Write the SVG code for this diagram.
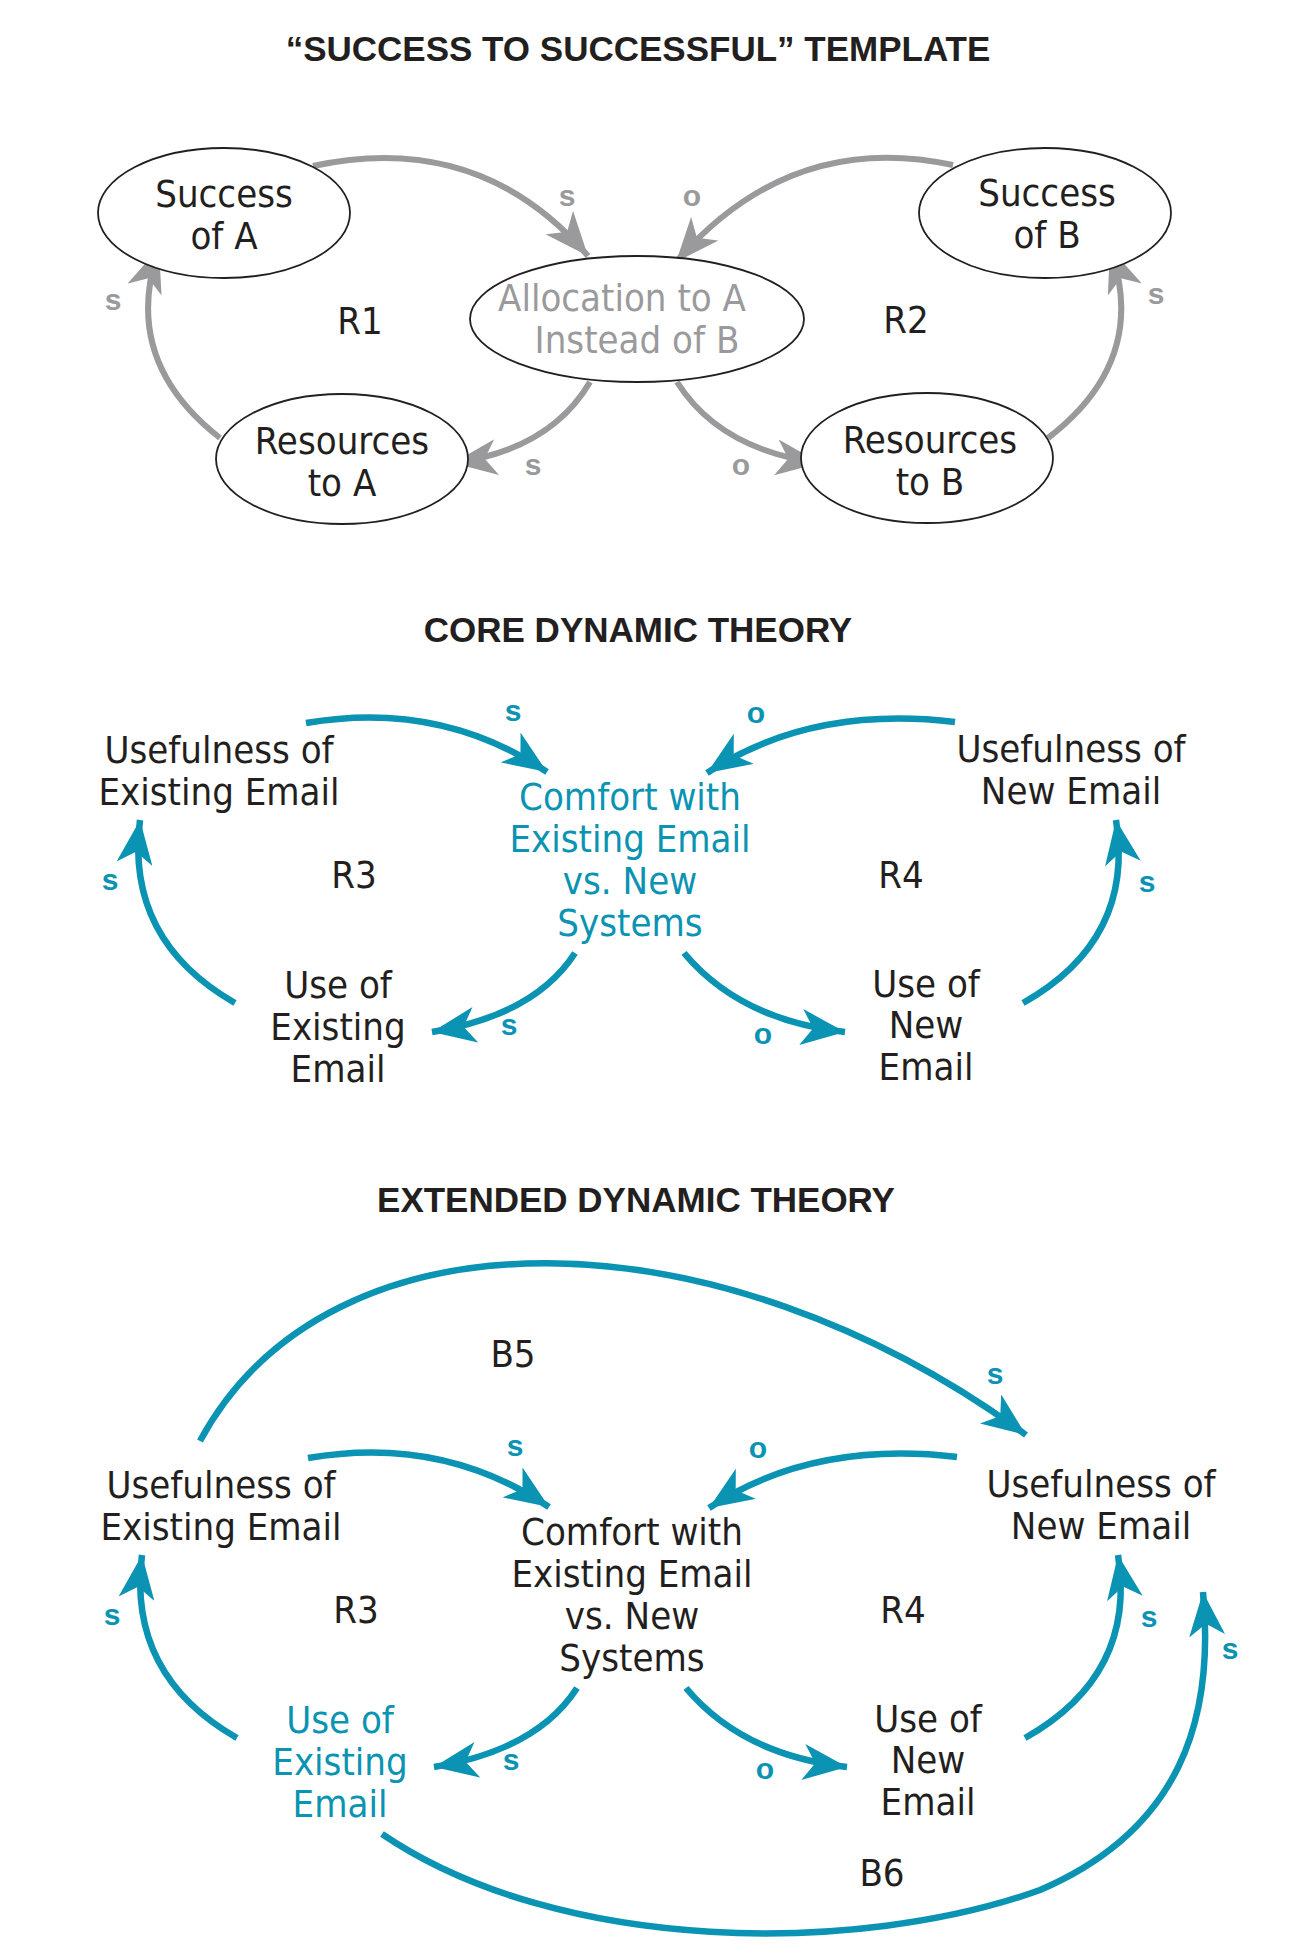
<svg xmlns="http://www.w3.org/2000/svg" width="1316" height="1956" viewBox="0 0 1316 1956">
<style>
.t{font-family:"Liberation Sans Narrow","DejaVu Sans Condensed","Liberation Sans",sans-serif;font-size:38px;text-anchor:middle;fill:#231f20}
.h{font-family:"Liberation Sans","DejaVu Sans",sans-serif;font-weight:bold;font-size:35px;text-anchor:middle;fill:#231f20}
.g{fill:#9a9a9c}.c{fill:#0a93b2}
.sg{font-family:"Liberation Sans","DejaVu Sans",sans-serif;font-weight:bold;font-size:30px;text-anchor:middle;fill:#9a9a9c}
.sc{font-family:"Liberation Sans","DejaVu Sans",sans-serif;font-weight:bold;font-size:30px;text-anchor:middle;fill:#0a93b2}
.ag{fill:none;stroke:#9a9a9c;stroke-width:6;marker-end:url(#mg)}
.ac{fill:none;stroke:#0a93b2;stroke-width:6.5;marker-end:url(#mc)}
ellipse{fill:#fff;stroke:#231f20;stroke-width:1.8}
</style>
<defs>
<marker id="mg" markerUnits="userSpaceOnUse" markerWidth="46" markerHeight="36" refX="44" refY="18" orient="auto"><path d="M0,0 L44,18 L0,36 L12,18 z" fill="#9a9a9c"/></marker>
<marker id="mc" markerUnits="userSpaceOnUse" markerWidth="46" markerHeight="36" refX="44" refY="18" orient="auto"><path d="M0,0 L44,18 L0,36 L12,18 z" fill="#0a93b2"/></marker>
</defs>
<rect width="1316" height="1956" fill="#fff"/>
<text class="h" x="638" y="61">“SUCCESS TO SUCCESSFUL” TEMPLATE</text>
<text class="h" x="638" y="642">CORE DYNAMIC THEORY</text>
<text class="h" x="636" y="1212">EXTENDED DYNAMIC THEORY</text>

<g id="connectors">
<path class="ag" d="M313,166 Q480,130 588,256"/>
<path class="ag" d="M953,165 Q790,130 676,262"/>
<path class="ag" d="M590,382 Q550,450 453,463"/>
<path class="ag" d="M677,382 Q720,450 820,463"/>
<path class="ag" d="M220,438 Q120,360 159,248"/>
<path class="ag" d="M1048,438 Q1150,360 1110,248"/>
<path class="ac" d="M306,723 Q440,700 547,772"/>
<path class="ac" d="M955,722 Q810,705 707,773"/>
<path class="ac" d="M575,953 Q535,1015 432,1032"/>
<path class="ac" d="M684,953 Q740,1020 845,1032"/>
<path class="ac" d="M235,1003 Q125,940 140,820"/>
<path class="ac" d="M1023,1003 Q1135,940 1116,820"/>
<g transform="translate(2,735)">
<path class="ac" d="M306,723 Q440,700 547,772"/>
<path class="ac" d="M955,722 Q810,705 707,773"/>
<path class="ac" d="M575,953 Q535,1015 432,1032"/>
<path class="ac" d="M684,953 Q740,1020 845,1032"/>
<path class="ac" d="M235,1003 Q125,940 140,820"/>
<path class="ac" d="M1023,1003 Q1135,940 1116,820"/>
</g>
<path class="ac" d="M200,1441 C330,1200 720,1210 1026,1435"/>
<path class="ac" d="M382,1834 C560,1955 860,1955 1040,1890 C1180,1830 1215,1720 1203,1592"/>
</g>

<g id="polarity">
<text class="sg" x="567" y="206">s</text><text class="sg" x="692" y="206">o</text>
<text class="sg" x="113" y="310">s</text><text class="sg" x="1156" y="304">s</text>
<text class="sg" x="533" y="475">s</text><text class="sg" x="741" y="475">o</text>
<text class="sc" x="513" y="721">s</text><text class="sc" x="756" y="723">o</text>
<text class="sc" x="110" y="890">s</text><text class="sc" x="1147" y="892">s</text>
<text class="sc" x="509" y="1035">s</text><text class="sc" x="763" y="1044">o</text>
<text class="sc" x="515" y="1456">s</text><text class="sc" x="758" y="1458">o</text>
<text class="sc" x="112" y="1625">s</text><text class="sc" x="1149" y="1627">s</text>
<text class="sc" x="511" y="1770">s</text><text class="sc" x="765" y="1779">o</text>
<text class="sc" x="995" y="1384">s</text><text class="sc" x="1230" y="1659">s</text>
</g>

<g id="succA"><ellipse cx="224" cy="213" rx="126" ry="65"/><text class="t" x="224" y="207">Success</text><text class="t" x="224" y="249">of A</text></g>
<g id="alloc"><ellipse cx="637" cy="319" rx="167" ry="63"/><text class="t g" x="622" y="311">Allocation to A</text><text class="t g" x="637" y="353">Instead of B</text></g>
<g id="succB"><ellipse cx="1045" cy="213" rx="126" ry="65"/><text class="t" x="1047" y="206">Success</text><text class="t" x="1047" y="248">of B</text></g>
<g id="resA"><ellipse cx="342" cy="459" rx="126" ry="65"/><text class="t" x="342" y="454">Resources</text><text class="t" x="342" y="496">to A</text></g>
<g id="resB"><ellipse cx="927" cy="458" rx="126" ry="65"/><text class="t" x="930" y="453">Resources</text><text class="t" x="930" y="495">to B</text></g>
<text class="t" x="360" y="334">R1</text><text class="t" x="906" y="333">R2</text>

<g id="c-uee"><text class="t" x="219" y="763">Usefulness of</text><text class="t" x="219" y="805">Existing Email</text></g>
<g id="c-comfort"><text class="t c" x="630" y="810">Comfort with</text><text class="t c" x="630" y="852">Existing Email</text><text class="t c" x="630" y="894">vs. New</text><text class="t c" x="630" y="936">Systems</text></g>
<g id="c-une"><text class="t" x="1071" y="762">Usefulness of</text><text class="t" x="1071" y="804">New Email</text></g>
<g id="c-usee"><text class="t" x="338" y="998">Use of</text><text class="t" x="338" y="1040">Existing</text><text class="t" x="338" y="1082">Email</text></g>
<g id="c-usen"><text class="t" x="926" y="997">Use of</text><text class="t" x="926" y="1038">New</text><text class="t" x="926" y="1080">Email</text></g>
<text class="t" x="354" y="888">R3</text><text class="t" x="901" y="888">R4</text>

<g id="e-uee"><text class="t" x="221" y="1498">Usefulness of</text><text class="t" x="221" y="1540">Existing Email</text></g>
<g id="e-comfort"><text class="t" x="632" y="1545">Comfort with</text><text class="t" x="632" y="1587">Existing Email</text><text class="t" x="632" y="1629">vs. New</text><text class="t" x="632" y="1671">Systems</text></g>
<g id="e-une"><text class="t" x="1101" y="1497">Usefulness of</text><text class="t" x="1101" y="1539">New Email</text></g>
<g id="e-usee"><text class="t c" x="340" y="1733">Use of</text><text class="t c" x="340" y="1775">Existing</text><text class="t c" x="340" y="1817">Email</text></g>
<g id="e-usen"><text class="t" x="928" y="1732">Use of</text><text class="t" x="928" y="1773">New</text><text class="t" x="928" y="1815">Email</text></g>
<text class="t" x="356" y="1623">R3</text><text class="t" x="903" y="1623">R4</text>
<text class="t" x="513" y="1367">B5</text><text class="t" x="882" y="1886">B6</text>
</svg>
